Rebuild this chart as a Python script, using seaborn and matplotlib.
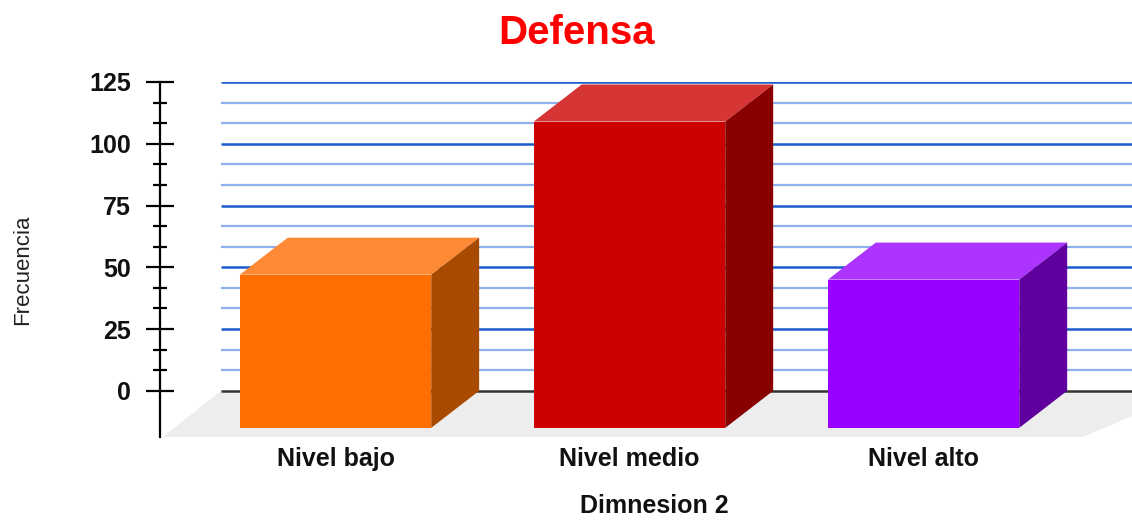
import matplotlib
matplotlib.use("Agg")
import matplotlib.pyplot as plt
from matplotlib.patches import Polygon
import seaborn as sns

# Données
categorias = ["Nivel bajo", "Nivel medio", "Nivel alto"]
frecuencias = [62, 124, 60]
ticks_y = [0, 25, 50, 75, 100, 125]

# Couleurs : face avant, dessus, côté
col_face = ["#FF6E00", "#CC0000", "#9900FF"]
col_top = ["#FF8A36", "#D63535", "#AD33FF"]
col_side = ["#A84A00", "#880000", "#5F009E"]

# Profondeur 3D (unités de données)
dx_bar, dy_bar = 0.163, 15.0
dx_floor, dy_floor = 0.208, 18.7

sns.set_theme(style="white")
plt.rcParams["font.family"] = ["Liberation Sans", "DejaVu Sans"]

fig = plt.figure(figsize=(11.32, 5.21), dpi=100)
ax = fig.add_axes([160 / 1132, 84 / 521, 972 / 1132, 355 / 521])

xmin, xmax = -0.597, 2.709
ymin, ymax = -dy_floor, 125

# Sol gris
x_back = xmin + dx_floor
ax.add_patch(Polygon([(xmin + 0.01, ymin), (x_back, 0), (xmax + 0.2, 0), (2.543, ymin)],
                     closed=True, facecolor="#EDEDED", edgecolor="none", zorder=0))

# Lignes de grille sur le mur du fond
minor_y = [25 / 3 * i for i in range(1, 15) if i % 3 != 0]
ax.hlines(minor_y, x_back, xmax, colors="#8FB0EA", linewidth=1.6, zorder=1)
ax.hlines(ticks_y[1:], x_back, xmax, colors="#1B5BCC", linewidth=1.8, zorder=1)
ax.hlines([0], x_back, xmax, colors="#333333", linewidth=1.8, zorder=1)

# Barres (faces avant)
sns.barplot(x=categorias, y=frecuencias, hue=categorias, palette=col_face,
            width=0.651, saturation=1, legend=False, ax=ax)

bars = sorted(ax.patches[1:], key=lambda p: p.get_x())
for i, p in enumerate(bars):
    x0, w, h = p.get_x(), p.get_width(), p.get_height()
    x1 = x0 + w
    p.set_y(-dy_bar)
    p.set_edgecolor("none")
    p.set_zorder(3)
    top = Polygon([(x0, h - dy_bar), (x1, h - dy_bar), (x1 + dx_bar, h), (x0 + dx_bar, h)],
                  closed=True, facecolor=col_top[i], edgecolor="none", zorder=3)
    side = Polygon([(x1, -dy_bar), (x1 + dx_bar, 0), (x1 + dx_bar, h), (x1, h - dy_bar)],
                   closed=True, facecolor=col_side[i], edgecolor="none", zorder=3)
    ax.add_patch(top)
    ax.add_patch(side)

ax.set_xlim(xmin, xmax)
ax.set_ylim(ymin, ymax)

# Axe Y
for s in ["top", "right", "bottom"]:
    ax.spines[s].set_visible(False)
ax.spines["left"].set_color("black")
ax.spines["left"].set_linewidth(1.6)
ax.set_yticks(ticks_y)
ax.set_yticks(minor_y, minor=True)
ax.set_yticklabels([str(t) for t in ticks_y], fontsize=18, fontweight="bold", color="#111111")
ax.tick_params(axis="y", which="major", direction="inout", length=20, width=1.6,
               color="black", pad=11, left=True)
ax.tick_params(axis="y", which="minor", direction="inout", length=10, width=1.6,
               color="black", left=True)
ax.grid(False)

# Axe X
ax.set_xticks(range(len(categorias)))
ax.set_xticklabels(categorias, fontsize=18, fontweight="bold", color="#111111")
ax.tick_params(axis="x", length=0, pad=7)

ax.set_xlabel("Dimnesion 2", fontsize=18, fontweight="bold", color="#111111", va="center")
ax.xaxis.set_label_coords((654 - 160) / 972, (437 - 506) / 355)
ax.set_ylabel("Frecuencia", fontsize=16, color="#222222", va="center")
ax.yaxis.set_label_coords((23 - 160) / 972, (437 - 270) / 355)

fig.text(577 / 1132, 1 - 43.5 / 521, "Defensa", color="#FF0000", fontsize=29,
         fontweight="bold", ha="center", va="baseline")

fig.savefig("out.png", dpi=100)
